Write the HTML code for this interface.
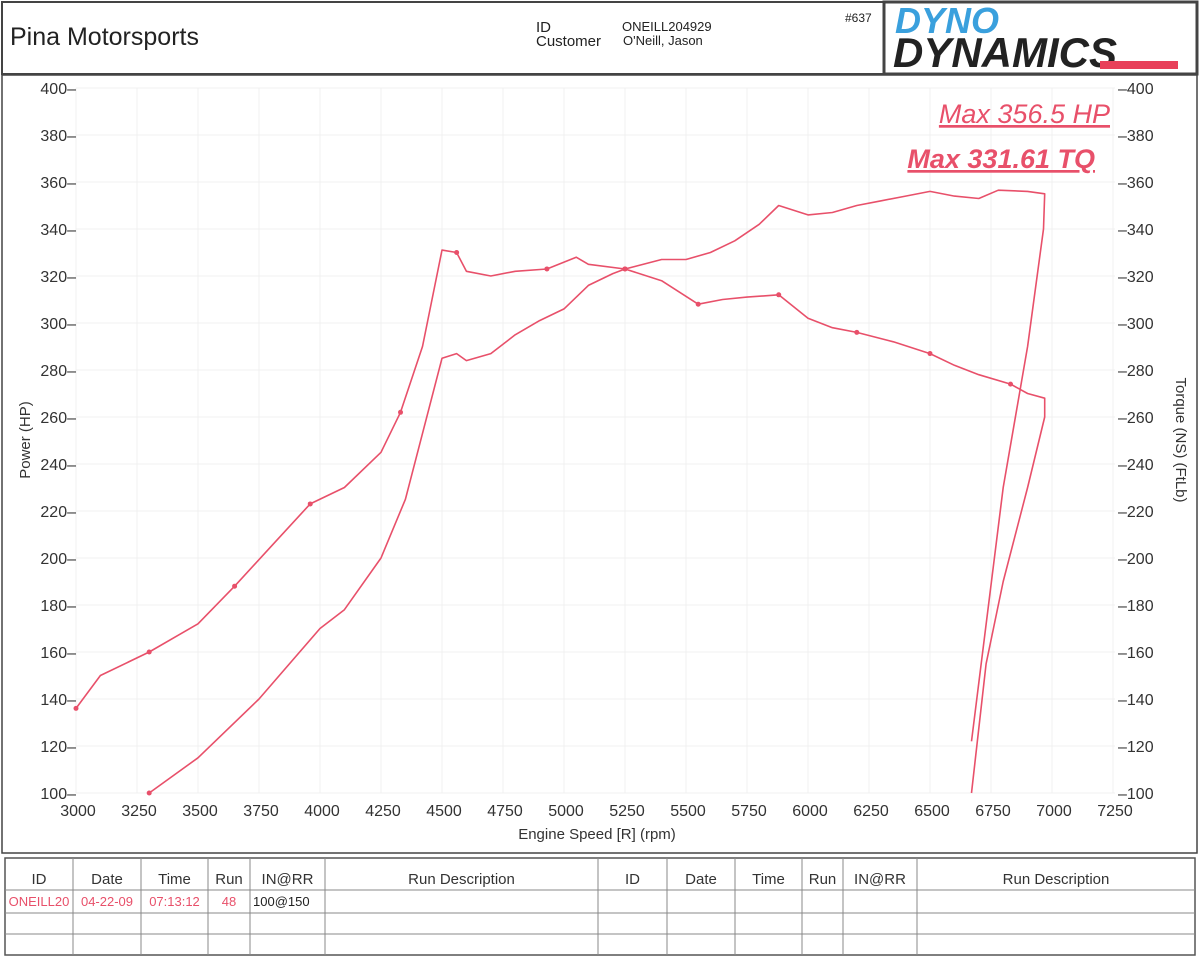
<!DOCTYPE html>
<html><head><meta charset="utf-8"><style>
body{margin:0;background:#fff;font-family:"Liberation Sans",sans-serif;}
svg{display:block}
</style></head><body>
<svg width="1200" height="958" viewBox="0 0 1200 958">
<rect x="2" y="2" width="1195" height="72" fill="#fff" stroke="#444" stroke-width="2"/>
<text x="10" y="45" font-size="25" fill="#222">Pina Motorsports</text>
<text x="536" y="32" font-size="15" fill="#222">ID</text>
<text x="536" y="46" font-size="15" fill="#222">Customer</text>
<text x="622" y="31" font-size="13" fill="#222">ONEILL204929</text>
<text x="623" y="45" font-size="13" fill="#222">O'Neill, Jason</text>
<text x="845" y="22" font-size="12" fill="#222">#637</text>
<g>
<rect x="884" y="2" width="313" height="72" fill="#fff" stroke="#444" stroke-width="3"/>
<text x="895" y="33" font-size="36" font-weight="bold" font-style="italic" fill="#3aa0dd">DYNO</text>
<text x="893" y="67" font-size="42" font-weight="bold" font-style="italic" fill="#222">DYNAMICS</text>
<rect x="1100" y="61" width="78" height="8" fill="#e8405a"/>
</g>
<rect x="2" y="75" width="1195" height="778" fill="#fff" stroke="#444" stroke-width="1.5"/>
<g id="grid"></g>
<g id="axes" font-size="16" fill="#333"></g>
<text x="597" y="839" font-size="15" fill="#333" text-anchor="middle">Engine Speed [R] (rpm)</text>
<text transform="translate(30,440) rotate(-90)" font-size="15" fill="#333" text-anchor="middle">Power (HP)</text>
<text transform="translate(1176,440) rotate(90)" font-size="15" fill="#333" text-anchor="middle">Torque (NS) (FtLb)</text>
<g id="series"></g>
<text x="1110" y="123" font-size="27" font-style="italic" fill="#e8506a" text-anchor="end" text-decoration="underline">Max 356.5 HP</text>
<text x="1095" y="168" font-size="27" font-style="italic" font-weight="bold" fill="#e8506a" text-anchor="end" text-decoration="underline">Max 331.61 TQ</text>
<g id="table" font-size="15"></g>
</svg>
<script>
const xTicks=[3000,3250,3500,3750,4000,4250,4500,4750,5000,5250,5500,5750,6000,6250,6500,6750,7000,7250];
const yTicks=[100,120,140,160,180,200,220,240,260,280,300,320,340,360,380,400];
const hpRpm=[3000,3100,3300,3500,3650,3800,3960,4100,4250,4330,4420,4500,4560,4600,4700,4800,4930,5050,5100,5250,5400,5500,5600,5700,5800,5880,6000,6100,6200,6300,6400,6500,6600,6700,6780,6900,6970,6965,6900,6800,6670];
const hpVal=[136,150,160,172,188,205,223,230,245,262,290,331,330,322,320,322,323,328,325,323,327,327,330,335,342,350,346,347,350,352,354,356,354,353,356.5,356,355,340,290,230,122];
const tqRpm=[3300,3500,3750,4000,4100,4250,4350,4450,4500,4560,4600,4700,4800,4900,5000,5100,5200,5250,5400,5550,5650,5750,5880,6000,6100,6200,6350,6500,6600,6700,6830,6900,6970,6970,6900,6800,6730,6670];
const tqVal=[100,115,140,170,178,200,225,265,285,287,284,287,295,301,306,316,321,323,318,308,310,311,312,302,298,296,292,287,282,278,274,270,268,260,230,190,155,100];
const hpMarks=[0,2,4,6,9,12,16,19];
const tqMarks=[0,17,19,22,25,27,30];
const X=v=>76+(v-3000)*61/250;
const Y=v=>793-(v-100)*47/20;
const ns="http://www.w3.org/2000/svg";
function mk(p,t,a){const e=document.createElementNS(ns,t);for(const k in a)e.setAttribute(k,a[k]);p.appendChild(e);return e;}
const grid=document.getElementById('grid'),axes=document.getElementById('axes');
xTicks.forEach(t=>{
const l=mk(grid,'line',{x1:X(t),x2:X(t),y1:88,y2:793,stroke:'#f0f0f0'});


const tx=mk(axes,'text',{x:X(t)+2,y:816,'text-anchor':'middle'});tx.textContent=t;


});
yTicks.forEach(t=>{
const l=mk(grid,'line',{x1:76,x2:1115,y1:Y(t),y2:Y(t),stroke:'#f0f0f0'});


const a=mk(axes,'text',{x:76,y:Y(t)+6,'text-anchor':'end'});a.textContent=t+'\u2013';


const b=mk(axes,'text',{x:1118,y:Y(t)+6});b.textContent='\u2013'+t;


});
const s=document.getElementById('series');
function draw(r,v,m,name){
const d=r.map((x,i)=>(i?'L':'M')+X(x).toFixed(1)+','+Y(v[i]).toFixed(1)).join('');
const p=mk(s,'path',{d:d,fill:'none',stroke:'#e8506a','stroke-width':1.6,'stroke-linejoin':'round'});


m.forEach(i=>{const c=mk(s,'circle',{cx:X(r[i]),cy:Y(v[i]),r:2.5,fill:'#e8506a'});

});
}
draw(hpRpm,hpVal,hpMarks,'power-line');
draw(tqRpm,tqVal,tqMarks,'torque-line');
const tb=document.getElementById('table');
mk(tb,'rect',{x:5,y:858,width:1190,height:97,fill:'#fff',stroke:'#555','stroke-width':1.5});
const cols=[5,73,141,208,250,325,598,667,735,802,843,917,1195];
const heads=['ID','Date','Time','Run','IN@RR','Run Description','ID','Date','Time','Run','IN@RR','Run Description'];
[890,913,934].forEach(y=>mk(tb,'line',{x1:5,x2:1195,y1:y,y2:y,stroke:'#888'}));
cols.slice(1,-1).forEach(x=>mk(tb,'line',{x1:x,x2:x,y1:858,y2:955,stroke:'#888'}));
heads.forEach((h,i)=>{const t=mk(tb,'text',{x:(cols[i]+cols[i+1])/2,y:884,'text-anchor':'middle',fill:'#333'});t.textContent=h;

});
const row=['ONEILL20','04-22-09','07:13:12','48','100@150'];
row.forEach((h,i)=>{const t=mk(tb,'text',{x:i==4?cols[i]+3:(cols[i]+cols[i+1])/2,y:906,'text-anchor':i==4?'start':'middle',fill:i==4?'#222':'#e8506a','font-size':13});t.textContent=h;

});
</script>
</body></html>
